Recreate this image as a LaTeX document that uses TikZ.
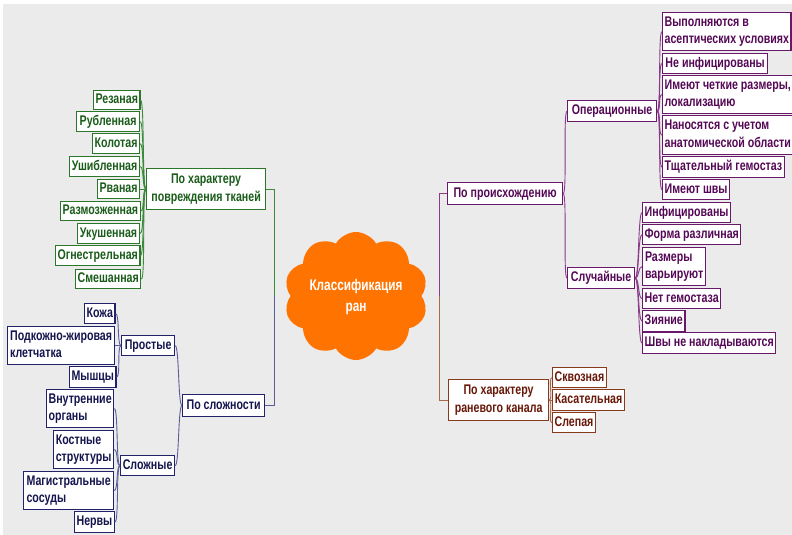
\documentclass[tikz,border=0pt]{standalone}
\usepackage{fontspec}
\newfontfamily\nf[FakeStretch=0.76]{Liberation Sans}
\usetikzlibrary{shapes.symbols}
\pgfdeclarelayer{bg}\pgfsetlayers{bg,main}
\definecolor{bgc}{HTML}{EBEBEB}
\definecolor{gbord}{HTML}{2A772A}
\definecolor{gtext}{HTML}{1A5C1A}
\definecolor{gconn}{HTML}{3A8A3A}
\definecolor{bbord}{HTML}{22226A}
\definecolor{btext}{HTML}{14144E}
\definecolor{bconn}{HTML}{5C5C98}
\definecolor{pbord}{HTML}{6A186A}
\definecolor{ptext}{HTML}{550855}
\definecolor{pconn}{HTML}{8A3A8A}
\definecolor{rbord}{HTML}{8A3A1C}
\definecolor{rtext}{HTML}{681808}
\definecolor{rconn}{HTML}{A8684A}
\definecolor{orng}{HTML}{FF7300}
\newcommand\bnode[8]{%
  \pgfmathsetmacro\bw{#6-#4}\pgfmathsetmacro\bh{#7-#5}%
  \node[#2,anchor=north west,minimum width=\bw pt,minimum height=\bh pt] (#1) at (#4,#5)
    {\begin{tabular}{@{}#3@{}}#8\end{tabular}};}
\begin{document}
\begin{tikzpicture}[x=1pt,y=-1pt,
  font=\nf\bfseries\fontsize{14}{17.5}\selectfont,
  box/.style={draw, fill=white, line width=1.2pt, inner xsep=2pt, inner ysep=0pt},
  gbox/.style={box, draw=gbord, text=gtext},
  bbox/.style={box, draw=bbord, text=btext},
  pbox/.style={box, draw=pbord, text=ptext},
  rbox/.style={box, draw=rbord, text=rtext},
  conn/.style={line width=0.9pt},
  gline/.style={conn, draw=gconn},
  bline/.style={conn, draw=bconn},
  pline/.style={conn, draw=pconn},
  rline/.style={conn, draw=rconn},
  crv/.style={out=0, in=180, distance=4pt}
]
\useasboundingbox (0,0) rectangle (792,535);
\fill[white] (0,0) rectangle (792,535);
\fill[bgc] (3,4) rectangle (792,535);

% root
\node[cloud, cloud puffs=10, cloud puff arc=120, aspect=1.1, fill=orng, draw=none,
      minimum width=144pt, minimum height=128pt, inner sep=0pt] (root) at (356,296) {};
\node[text=white, align=center, font=\nf\bfseries\fontsize{15.5}{21}\selectfont] (roottxt) at (356,297) {Классификация\\ран};

% green
\bnode{g1}{gbox}{l}{93}{90}{139}{109}{Резаная}
\bnode{g2}{gbox}{l}{76}{111}{139}{131}{Рубленная}
\bnode{g3}{gbox}{l}{92}{133}{139}{153}{Колотая}
\bnode{g4}{gbox}{l}{69}{156}{139}{176}{Ушибленная}
\bnode{g5}{gbox}{l}{97}{179}{139}{198}{Рваная}
\bnode{g6}{gbox}{l}{60}{201}{139}{220}{Размозженная}
\bnode{g7}{gbox}{l}{77}{223}{139}{243}{Укушенная}
\bnode{g8}{gbox}{l}{55}{245}{139}{265}{Огнестрельная}
\bnode{g9}{gbox}{l}{75}{269}{139}{288}{Смешанная}
\bnode{gp}{gbox}{c}{146}{168}{265}{209}{По характеру\\повреждения тканей}

% blue
\bnode{b1}{bbox}{l}{84}{303}{114}{323}{Кожа}
\bnode{b2}{bbox}{l}{7}{326}{114}{364}{Подкожно-жировая\\клетчатка}
\bnode{b3}{bbox}{l}{69}{366}{114}{387}{Мышцы}
\bnode{bs}{bbox}{l}{121}{335}{174}{355}{Простые}
\bnode{b4}{bbox}{l}{46}{389}{113}{427}{Внутренние\\органы}
\bnode{b5}{bbox}{l}{53}{430}{113}{468}{Костные\\структуры}
\bnode{b6}{bbox}{l}{23}{471}{113}{509}{Магистральные\\сосуды}
\bnode{b7}{bbox}{l}{74}{511}{113}{532}{Нервы}
\bnode{bc}{bbox}{l}{120}{455}{174}{475}{Сложные}
\bnode{bp}{bbox}{l}{182}{394}{264}{416}{По сложности}

% purple
\bnode{p1}{pbox}{l}{662}{12}{790}{50}{Выполняются в\\асептических условиях}
\bnode{p2}{pbox}{l}{662}{53}{767}{73}{Не инфицированы}
\bnode{p3}{pbox}{l}{662}{75}{790}{113}{Имеют четкие размеры,\\локализацию}
\bnode{p4}{pbox}{l}{662}{115}{790}{154}{Наносятся с учетом\\анатомической области}
\bnode{p5}{pbox}{l}{662}{156}{783}{177}{Тщательный гемостаз}
\bnode{p6}{pbox}{l}{662}{179}{728}{199}{Имеют швы}
\bnode{po}{pbox}{l}{567}{100}{656}{121}{Операционные}
\bnode{pp}{pbox}{l}{447}{182}{562}{204}{По происхождению}
\bnode{p7}{pbox}{l}{642}{202}{730}{222}{Инфицированы}
\bnode{p8}{pbox}{l}{642}{224}{740}{244}{Форма различная}
\bnode{p9}{pbox}{l}{642}{247}{705}{285}{Размеры\\варьируют}
\bnode{p10}{pbox}{l}{642}{288}{720}{308}{Нет гемостаза}
\bnode{p11}{pbox}{l}{642}{310}{683}{331}{Зияние}
\bnode{p12}{pbox}{l}{642}{332}{775}{353}{Швы не накладываются}
\bnode{ps}{pbox}{l}{567}{267}{634}{288}{Случайные}

% brown
\bnode{rp}{rbox}{c}{448}{379}{548}{420}{По характеру\\раневого канала}
\bnode{r1}{rbox}{l}{552}{367}{605}{387}{Сквозная}
\bnode{r2}{rbox}{l}{552}{389}{624}{410}{Касательная}
\bnode{r3}{rbox}{l}{552}{412}{594}{432}{Слепая}

\coordinate (lj) at (274,296);
\coordinate (rj) at (439,296);

\begin{pgfonlayer}{bg}
\draw[conn, draw={rgb,255:red,120;green,120;blue,168}] (lj) -- (root.center);
\draw[conn, draw={rgb,255:red,192;green,150;blue,130}] (root.center) -- (rj);
\end{pgfonlayer}

\draw[gline] (gp.east) -| (lj);
\draw[bline] (bp.east) -| (lj);
\draw[pline] (pp.west) -| (rj);
\draw[rline] (rp.west) -| (rj);

\foreach \c in {g1,g2,g3,g4,g5,g6,g7,g8,g9} \draw[gline] (\c.east) to[crv] (gp.west);
\foreach \c in {b1,b2,b3} \draw[bline] (\c.east) to[crv] (bs.west);
\foreach \c in {b4,b5,b6,b7} \draw[bline] (\c.east) to[crv] (bc.west);
\foreach \c in {bs,bc} \draw[bline] (\c.east) to[crv] (bp.west);
\foreach \c in {p1,p2,p3,p4,p5,p6} \draw[pline] (po.east) to[crv] (\c.west);
\foreach \c in {p7,p8,p9,p10,p11,p12} \draw[pline] (ps.east) to[crv] (\c.west);
\foreach \c in {po,ps} \draw[pline] (pp.east) to[crv] (\c.west);
\foreach \c in {r1,r2,r3} \draw[rline] (rp.east) to[crv] (\c.west);
\end{tikzpicture}
\end{document}
